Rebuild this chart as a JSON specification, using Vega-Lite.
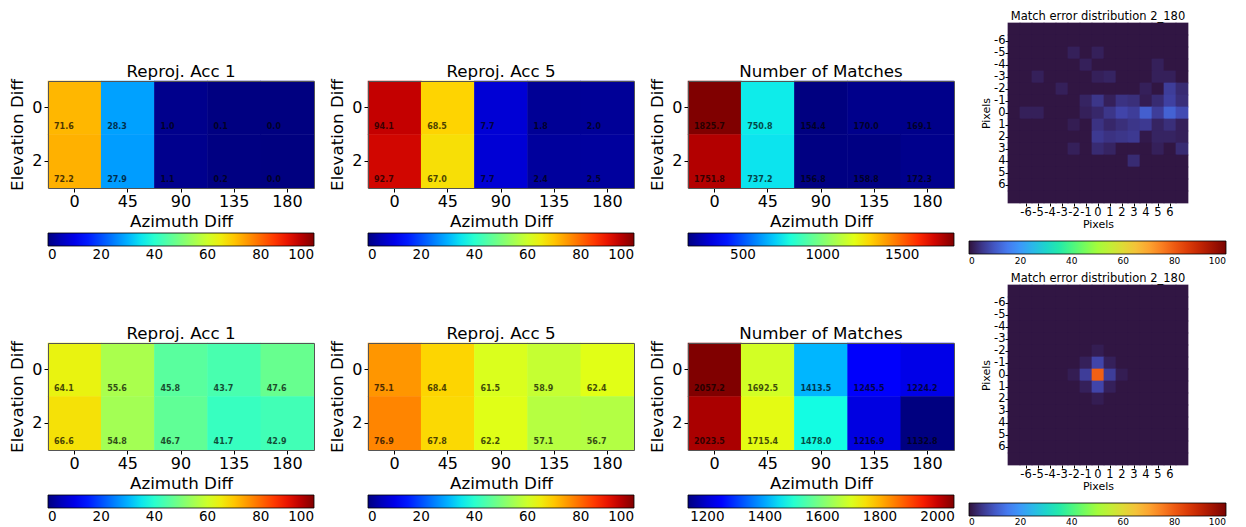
{
"$schema": "https://vega.github.io/schema/vega-lite/v6.json",
"background": "white",
"padding": {"left": 9, "top": 11, "right": 5, "bottom": 0},
"config": {
  "font": "DejaVu Sans",
  "view": {"stroke": null},
  "axis": {"labelFont": "DejaVu Sans", "titleFont": "DejaVu Sans", "labelColor": "#000", "titleColor": "#000", "tickColor": "#000", "domain": false, "grid": false, "titleFontWeight": "normal", "labelAngle": 0, "labelOverlap": false},
  "title": {"font": "DejaVu Sans", "fontWeight": "normal", "color": "#000", "anchor": "middle"},
  "legend": {"padding": 0, "labelFont": "DejaVu Sans", "labelColor": "#000", "gradientStrokeColor": "#000", "gradientStrokeWidth": 0.8, "labelAlign": "center", "labelOverlap": false, "labelOffset": 7}
},
"datasets": {
  "acc1_top": [
    {"azimuth": 0, "elevation": 0, "value": 71.6}, {"azimuth": 45, "elevation": 0, "value": 28.3}, {"azimuth": 90, "elevation": 0, "value": 1.0}, {"azimuth": 135, "elevation": 0, "value": 0.1}, {"azimuth": 180, "elevation": 0, "value": 0.0},
    {"azimuth": 0, "elevation": 2, "value": 72.2}, {"azimuth": 45, "elevation": 2, "value": 27.9}, {"azimuth": 90, "elevation": 2, "value": 1.1}, {"azimuth": 135, "elevation": 2, "value": 0.2}, {"azimuth": 180, "elevation": 2, "value": 0.0}
  ],
  "acc5_top": [
    {"azimuth": 0, "elevation": 0, "value": 94.1}, {"azimuth": 45, "elevation": 0, "value": 68.5}, {"azimuth": 90, "elevation": 0, "value": 7.7}, {"azimuth": 135, "elevation": 0, "value": 1.8}, {"azimuth": 180, "elevation": 0, "value": 2.0},
    {"azimuth": 0, "elevation": 2, "value": 92.7}, {"azimuth": 45, "elevation": 2, "value": 67.0}, {"azimuth": 90, "elevation": 2, "value": 7.7}, {"azimuth": 135, "elevation": 2, "value": 2.4}, {"azimuth": 180, "elevation": 2, "value": 2.5}
  ],
  "nom_top": [
    {"azimuth": 0, "elevation": 0, "value": 1825.7}, {"azimuth": 45, "elevation": 0, "value": 750.8}, {"azimuth": 90, "elevation": 0, "value": 154.4}, {"azimuth": 135, "elevation": 0, "value": 170.0}, {"azimuth": 180, "elevation": 0, "value": 169.1},
    {"azimuth": 0, "elevation": 2, "value": 1751.8}, {"azimuth": 45, "elevation": 2, "value": 737.2}, {"azimuth": 90, "elevation": 2, "value": 156.8}, {"azimuth": 135, "elevation": 2, "value": 158.8}, {"azimuth": 180, "elevation": 2, "value": 172.3}
  ],
  "acc1_bot": [
    {"azimuth": 0, "elevation": 0, "value": 64.1}, {"azimuth": 45, "elevation": 0, "value": 55.6}, {"azimuth": 90, "elevation": 0, "value": 45.8}, {"azimuth": 135, "elevation": 0, "value": 43.7}, {"azimuth": 180, "elevation": 0, "value": 47.6},
    {"azimuth": 0, "elevation": 2, "value": 66.6}, {"azimuth": 45, "elevation": 2, "value": 54.8}, {"azimuth": 90, "elevation": 2, "value": 46.7}, {"azimuth": 135, "elevation": 2, "value": 41.7}, {"azimuth": 180, "elevation": 2, "value": 42.9}
  ],
  "acc5_bot": [
    {"azimuth": 0, "elevation": 0, "value": 75.1}, {"azimuth": 45, "elevation": 0, "value": 68.4}, {"azimuth": 90, "elevation": 0, "value": 61.5}, {"azimuth": 135, "elevation": 0, "value": 58.9}, {"azimuth": 180, "elevation": 0, "value": 62.4},
    {"azimuth": 0, "elevation": 2, "value": 76.9}, {"azimuth": 45, "elevation": 2, "value": 67.8}, {"azimuth": 90, "elevation": 2, "value": 62.2}, {"azimuth": 135, "elevation": 2, "value": 57.1}, {"azimuth": 180, "elevation": 2, "value": 56.7}
  ],
  "nom_bot": [
    {"azimuth": 0, "elevation": 0, "value": 2057.2}, {"azimuth": 45, "elevation": 0, "value": 1692.5}, {"azimuth": 90, "elevation": 0, "value": 1413.5}, {"azimuth": 135, "elevation": 0, "value": 1245.5}, {"azimuth": 180, "elevation": 0, "value": 1224.2},
    {"azimuth": 0, "elevation": 2, "value": 2023.5}, {"azimuth": 45, "elevation": 2, "value": 1715.4}, {"azimuth": 90, "elevation": 2, "value": 1478.0}, {"azimuth": 135, "elevation": 2, "value": 1216.9}, {"azimuth": 180, "elevation": 2, "value": 1132.8}
  ],
  "err_top": [
    {"px":-7,"py":-7,"v":0.5},{"px":-6,"py":-7,"v":0.5},{"px":-5,"py":-7,"v":0.5},{"px":-4,"py":-7,"v":0.5},{"px":-3,"py":-7,"v":0.5},{"px":-2,"py":-7,"v":0.5},{"px":-1,"py":-7,"v":0.5},{"px":0,"py":-7,"v":0.5},{"px":1,"py":-7,"v":0.5},{"px":2,"py":-7,"v":0.5},{"px":3,"py":-7,"v":0.5},{"px":4,"py":-7,"v":0.5},{"px":5,"py":-7,"v":0.5},{"px":6,"py":-7,"v":0.5},{"px":7,"py":-7,"v":0.5},
    {"px":-7,"py":-6,"v":0.5},{"px":-6,"py":-6,"v":0.5},{"px":-5,"py":-6,"v":0.5},{"px":-4,"py":-6,"v":0.5},{"px":-3,"py":-6,"v":0.5},{"px":-2,"py":-6,"v":0.5},{"px":-1,"py":-6,"v":0.5},{"px":0,"py":-6,"v":0.5},{"px":1,"py":-6,"v":0.5},{"px":2,"py":-6,"v":0.5},{"px":3,"py":-6,"v":0.5},{"px":4,"py":-6,"v":0.5},{"px":5,"py":-6,"v":0.5},{"px":6,"py":-6,"v":0.5},{"px":7,"py":-6,"v":0.5},
    {"px":-7,"py":-5,"v":0.5},{"px":-6,"py":-5,"v":0.5},{"px":-5,"py":-5,"v":0.5},{"px":-4,"py":-5,"v":0.5},{"px":-3,"py":-5,"v":0.5},{"px":-2,"py":-5,"v":2},{"px":-1,"py":-5,"v":0.5},{"px":0,"py":-5,"v":2},{"px":1,"py":-5,"v":0.5},{"px":2,"py":-5,"v":0.5},{"px":3,"py":-5,"v":0.5},{"px":4,"py":-5,"v":0.5},{"px":5,"py":-5,"v":0.5},{"px":6,"py":-5,"v":0.5},{"px":7,"py":-5,"v":0.5},
    {"px":-7,"py":-4,"v":0.5},{"px":-6,"py":-4,"v":0.5},{"px":-5,"py":-4,"v":0.5},{"px":-4,"py":-4,"v":0.5},{"px":-3,"py":-4,"v":0.5},{"px":-2,"py":-4,"v":0.5},{"px":-1,"py":-4,"v":2},{"px":0,"py":-4,"v":0.5},{"px":1,"py":-4,"v":0.5},{"px":2,"py":-4,"v":0.5},{"px":3,"py":-4,"v":0.5},{"px":4,"py":-4,"v":0.5},{"px":5,"py":-4,"v":2},{"px":6,"py":-4,"v":0.5},{"px":7,"py":-4,"v":0.5},
    {"px":-7,"py":-3,"v":0.5},{"px":-6,"py":-3,"v":0.5},{"px":-5,"py":-3,"v":2},{"px":-4,"py":-3,"v":0.5},{"px":-3,"py":-3,"v":0.5},{"px":-2,"py":-3,"v":0.5},{"px":-1,"py":-3,"v":0.5},{"px":0,"py":-3,"v":2},{"px":1,"py":-3,"v":2.5},{"px":2,"py":-3,"v":0.5},{"px":3,"py":-3,"v":0.5},{"px":4,"py":-3,"v":0.5},{"px":5,"py":-3,"v":2},{"px":6,"py":-3,"v":2},{"px":7,"py":-3,"v":0.5},
    {"px":-7,"py":-2,"v":0.5},{"px":-6,"py":-2,"v":0.5},{"px":-5,"py":-2,"v":0.5},{"px":-4,"py":-2,"v":0.5},{"px":-3,"py":-2,"v":2},{"px":-2,"py":-2,"v":0.5},{"px":-1,"py":-2,"v":0.5},{"px":0,"py":-2,"v":0.5},{"px":1,"py":-2,"v":0.5},{"px":2,"py":-2,"v":0.5},{"px":3,"py":-2,"v":0.5},{"px":4,"py":-2,"v":2},{"px":5,"py":-2,"v":0.5},{"px":6,"py":-2,"v":6},{"px":7,"py":-2,"v":3.5},
    {"px":-7,"py":-1,"v":0.5},{"px":-6,"py":-1,"v":0.5},{"px":-5,"py":-1,"v":0.5},{"px":-4,"py":-1,"v":0.5},{"px":-3,"py":-1,"v":0.5},{"px":-2,"py":-1,"v":0.5},{"px":-1,"py":-1,"v":2.5},{"px":0,"py":-1,"v":5},{"px":1,"py":-1,"v":2},{"px":2,"py":-1,"v":4.5},{"px":3,"py":-1,"v":4},{"px":4,"py":-1,"v":1.5},{"px":5,"py":-1,"v":3.5},{"px":6,"py":-1,"v":6.5},{"px":7,"py":-1,"v":4},
    {"px":-7,"py":0,"v":0.5},{"px":-6,"py":0,"v":2},{"px":-5,"py":0,"v":2},{"px":-4,"py":0,"v":0.5},{"px":-3,"py":0,"v":0.5},{"px":-2,"py":0,"v":0.5},{"px":-1,"py":0,"v":2},{"px":0,"py":0,"v":3},{"px":1,"py":0,"v":5},{"px":2,"py":0,"v":7},{"px":3,"py":0,"v":6},{"px":4,"py":0,"v":11},{"px":5,"py":0,"v":6},{"px":6,"py":0,"v":11.5},{"px":7,"py":0,"v":8},
    {"px":-7,"py":1,"v":0.5},{"px":-6,"py":1,"v":0.5},{"px":-5,"py":1,"v":0.5},{"px":-4,"py":1,"v":0.5},{"px":-3,"py":1,"v":0.5},{"px":-2,"py":1,"v":1.5},{"px":-1,"py":1,"v":0.5},{"px":0,"py":1,"v":4.5},{"px":1,"py":1,"v":3},{"px":2,"py":1,"v":4},{"px":3,"py":1,"v":5},{"px":4,"py":1,"v":5.5},{"px":5,"py":1,"v":2.5},{"px":6,"py":1,"v":4},{"px":7,"py":1,"v":2},
    {"px":-7,"py":2,"v":0.5},{"px":-6,"py":2,"v":0.5},{"px":-5,"py":2,"v":0.5},{"px":-4,"py":2,"v":0.5},{"px":-3,"py":2,"v":0.5},{"px":-2,"py":2,"v":0.5},{"px":-1,"py":2,"v":0.5},{"px":0,"py":2,"v":5.5},{"px":1,"py":2,"v":4.5},{"px":2,"py":2,"v":5},{"px":3,"py":2,"v":5.5},{"px":4,"py":2,"v":1},{"px":5,"py":2,"v":2.5},{"px":6,"py":2,"v":2.5},{"px":7,"py":2,"v":2},
    {"px":-7,"py":3,"v":0.5},{"px":-6,"py":3,"v":0.5},{"px":-5,"py":3,"v":0.5},{"px":-4,"py":3,"v":0.5},{"px":-3,"py":3,"v":0.5},{"px":-2,"py":3,"v":2},{"px":-1,"py":3,"v":0.5},{"px":0,"py":3,"v":3.5},{"px":1,"py":3,"v":2.5},{"px":2,"py":3,"v":0.5},{"px":3,"py":3,"v":0.5},{"px":4,"py":3,"v":0.5},{"px":5,"py":3,"v":2},{"px":6,"py":3,"v":0.5},{"px":7,"py":3,"v":3.5},
    {"px":-7,"py":4,"v":0.5},{"px":-6,"py":4,"v":0.5},{"px":-5,"py":4,"v":0.5},{"px":-4,"py":4,"v":0.5},{"px":-3,"py":4,"v":0.5},{"px":-2,"py":4,"v":0.5},{"px":-1,"py":4,"v":0.5},{"px":0,"py":4,"v":0.5},{"px":1,"py":4,"v":0.5},{"px":2,"py":4,"v":0.5},{"px":3,"py":4,"v":3.5},{"px":4,"py":4,"v":0.5},{"px":5,"py":4,"v":0.5},{"px":6,"py":4,"v":0.5},{"px":7,"py":4,"v":0.5},
    {"px":-7,"py":5,"v":0.5},{"px":-6,"py":5,"v":0.5},{"px":-5,"py":5,"v":0.5},{"px":-4,"py":5,"v":0.5},{"px":-3,"py":5,"v":0.5},{"px":-2,"py":5,"v":0.5},{"px":-1,"py":5,"v":0.5},{"px":0,"py":5,"v":0.5},{"px":1,"py":5,"v":0.5},{"px":2,"py":5,"v":0.5},{"px":3,"py":5,"v":0.5},{"px":4,"py":5,"v":0.5},{"px":5,"py":5,"v":0.5},{"px":6,"py":5,"v":0.5},{"px":7,"py":5,"v":0.5},
    {"px":-7,"py":6,"v":0.5},{"px":-6,"py":6,"v":0.5},{"px":-5,"py":6,"v":0.5},{"px":-4,"py":6,"v":0.5},{"px":-3,"py":6,"v":0.5},{"px":-2,"py":6,"v":0.5},{"px":-1,"py":6,"v":0.5},{"px":0,"py":6,"v":0.5},{"px":1,"py":6,"v":0.5},{"px":2,"py":6,"v":0.5},{"px":3,"py":6,"v":0.5},{"px":4,"py":6,"v":0.5},{"px":5,"py":6,"v":0.5},{"px":6,"py":6,"v":0.5},{"px":7,"py":6,"v":0.5},
    {"px":-7,"py":7,"v":0.5},{"px":-6,"py":7,"v":0.5},{"px":-5,"py":7,"v":0.5},{"px":-4,"py":7,"v":0.5},{"px":-3,"py":7,"v":0.5},{"px":-2,"py":7,"v":0.5},{"px":-1,"py":7,"v":0.5},{"px":0,"py":7,"v":0.5},{"px":1,"py":7,"v":0.5},{"px":2,"py":7,"v":0.5},{"px":3,"py":7,"v":0.5},{"px":4,"py":7,"v":0.5},{"px":5,"py":7,"v":0.5},{"px":6,"py":7,"v":0.5},{"px":7,"py":7,"v":0.5}
  ],
  "err_bot": [
    {"px":-7,"py":-7,"v":0.5},{"px":-6,"py":-7,"v":0.5},{"px":-5,"py":-7,"v":0.5},{"px":-4,"py":-7,"v":0.5},{"px":-3,"py":-7,"v":0.5},{"px":-2,"py":-7,"v":0.5},{"px":-1,"py":-7,"v":0.5},{"px":0,"py":-7,"v":0.5},{"px":1,"py":-7,"v":0.5},{"px":2,"py":-7,"v":0.5},{"px":3,"py":-7,"v":0.5},{"px":4,"py":-7,"v":0.5},{"px":5,"py":-7,"v":0.5},{"px":6,"py":-7,"v":0.5},{"px":7,"py":-7,"v":0.5},
    {"px":-7,"py":-6,"v":0.5},{"px":-6,"py":-6,"v":0.5},{"px":-5,"py":-6,"v":0.5},{"px":-4,"py":-6,"v":0.5},{"px":-3,"py":-6,"v":0.5},{"px":-2,"py":-6,"v":0.5},{"px":-1,"py":-6,"v":0.5},{"px":0,"py":-6,"v":0.5},{"px":1,"py":-6,"v":0.5},{"px":2,"py":-6,"v":0.5},{"px":3,"py":-6,"v":0.5},{"px":4,"py":-6,"v":0.5},{"px":5,"py":-6,"v":0.5},{"px":6,"py":-6,"v":0.5},{"px":7,"py":-6,"v":0.5},
    {"px":-7,"py":-5,"v":0.5},{"px":-6,"py":-5,"v":0.5},{"px":-5,"py":-5,"v":0.5},{"px":-4,"py":-5,"v":0.5},{"px":-3,"py":-5,"v":0.5},{"px":-2,"py":-5,"v":0.5},{"px":-1,"py":-5,"v":0.5},{"px":0,"py":-5,"v":0.5},{"px":1,"py":-5,"v":0.5},{"px":2,"py":-5,"v":0.5},{"px":3,"py":-5,"v":0.5},{"px":4,"py":-5,"v":0.5},{"px":5,"py":-5,"v":0.5},{"px":6,"py":-5,"v":0.5},{"px":7,"py":-5,"v":0.5},
    {"px":-7,"py":-4,"v":0.5},{"px":-6,"py":-4,"v":0.5},{"px":-5,"py":-4,"v":0.5},{"px":-4,"py":-4,"v":0.5},{"px":-3,"py":-4,"v":0.5},{"px":-2,"py":-4,"v":0.5},{"px":-1,"py":-4,"v":0.5},{"px":0,"py":-4,"v":0.5},{"px":1,"py":-4,"v":0.5},{"px":2,"py":-4,"v":0.5},{"px":3,"py":-4,"v":0.5},{"px":4,"py":-4,"v":0.5},{"px":5,"py":-4,"v":0.5},{"px":6,"py":-4,"v":0.5},{"px":7,"py":-4,"v":0.5},
    {"px":-7,"py":-3,"v":0.5},{"px":-6,"py":-3,"v":0.5},{"px":-5,"py":-3,"v":0.5},{"px":-4,"py":-3,"v":0.5},{"px":-3,"py":-3,"v":0.5},{"px":-2,"py":-3,"v":0.5},{"px":-1,"py":-3,"v":0.5},{"px":0,"py":-3,"v":0.5},{"px":1,"py":-3,"v":0.5},{"px":2,"py":-3,"v":0.5},{"px":3,"py":-3,"v":0.5},{"px":4,"py":-3,"v":0.5},{"px":5,"py":-3,"v":0.5},{"px":6,"py":-3,"v":0.5},{"px":7,"py":-3,"v":0.5},
    {"px":-7,"py":-2,"v":0.5},{"px":-6,"py":-2,"v":0.5},{"px":-5,"py":-2,"v":0.5},{"px":-4,"py":-2,"v":0.5},{"px":-3,"py":-2,"v":0.5},{"px":-2,"py":-2,"v":0.5},{"px":-1,"py":-2,"v":0.5},{"px":0,"py":-2,"v":1.5},{"px":1,"py":-2,"v":0.5},{"px":2,"py":-2,"v":0.5},{"px":3,"py":-2,"v":0.5},{"px":4,"py":-2,"v":0.5},{"px":5,"py":-2,"v":0.5},{"px":6,"py":-2,"v":0.5},{"px":7,"py":-2,"v":0.5},
    {"px":-7,"py":-1,"v":0.5},{"px":-6,"py":-1,"v":0.5},{"px":-5,"py":-1,"v":0.5},{"px":-4,"py":-1,"v":0.5},{"px":-3,"py":-1,"v":0.5},{"px":-2,"py":-1,"v":0.5},{"px":-1,"py":-1,"v":2},{"px":0,"py":-1,"v":7},{"px":1,"py":-1,"v":2},{"px":2,"py":-1,"v":0.5},{"px":3,"py":-1,"v":0.5},{"px":4,"py":-1,"v":0.5},{"px":5,"py":-1,"v":0.5},{"px":6,"py":-1,"v":0.5},{"px":7,"py":-1,"v":0.5},
    {"px":-7,"py":0,"v":0.5},{"px":-6,"py":0,"v":0.5},{"px":-5,"py":0,"v":0.5},{"px":-4,"py":0,"v":0.5},{"px":-3,"py":0,"v":0.5},{"px":-2,"py":0,"v":1.5},{"px":-1,"py":0,"v":6},{"px":0,"py":0,"v":79},{"px":1,"py":0,"v":6},{"px":2,"py":0,"v":1.5},{"px":3,"py":0,"v":0.5},{"px":4,"py":0,"v":0.5},{"px":5,"py":0,"v":0.5},{"px":6,"py":0,"v":0.5},{"px":7,"py":0,"v":0.5},
    {"px":-7,"py":1,"v":0.5},{"px":-6,"py":1,"v":0.5},{"px":-5,"py":1,"v":0.5},{"px":-4,"py":1,"v":0.5},{"px":-3,"py":1,"v":0.5},{"px":-2,"py":1,"v":0.5},{"px":-1,"py":1,"v":2},{"px":0,"py":1,"v":7},{"px":1,"py":1,"v":2},{"px":2,"py":1,"v":0.5},{"px":3,"py":1,"v":0.5},{"px":4,"py":1,"v":0.5},{"px":5,"py":1,"v":0.5},{"px":6,"py":1,"v":0.5},{"px":7,"py":1,"v":0.5},
    {"px":-7,"py":2,"v":0.5},{"px":-6,"py":2,"v":0.5},{"px":-5,"py":2,"v":0.5},{"px":-4,"py":2,"v":0.5},{"px":-3,"py":2,"v":0.5},{"px":-2,"py":2,"v":0.5},{"px":-1,"py":2,"v":0.5},{"px":0,"py":2,"v":1.5},{"px":1,"py":2,"v":0.5},{"px":2,"py":2,"v":0.5},{"px":3,"py":2,"v":0.5},{"px":4,"py":2,"v":0.5},{"px":5,"py":2,"v":0.5},{"px":6,"py":2,"v":0.5},{"px":7,"py":2,"v":0.5},
    {"px":-7,"py":3,"v":0.5},{"px":-6,"py":3,"v":0.5},{"px":-5,"py":3,"v":0.5},{"px":-4,"py":3,"v":0.5},{"px":-3,"py":3,"v":0.5},{"px":-2,"py":3,"v":0.5},{"px":-1,"py":3,"v":0.5},{"px":0,"py":3,"v":0.5},{"px":1,"py":3,"v":0.5},{"px":2,"py":3,"v":0.5},{"px":3,"py":3,"v":0.5},{"px":4,"py":3,"v":0.5},{"px":5,"py":3,"v":0.5},{"px":6,"py":3,"v":0.5},{"px":7,"py":3,"v":0.5},
    {"px":-7,"py":4,"v":0.5},{"px":-6,"py":4,"v":0.5},{"px":-5,"py":4,"v":0.5},{"px":-4,"py":4,"v":0.5},{"px":-3,"py":4,"v":0.5},{"px":-2,"py":4,"v":0.5},{"px":-1,"py":4,"v":0.5},{"px":0,"py":4,"v":0.5},{"px":1,"py":4,"v":0.5},{"px":2,"py":4,"v":0.5},{"px":3,"py":4,"v":0.5},{"px":4,"py":4,"v":0.5},{"px":5,"py":4,"v":0.5},{"px":6,"py":4,"v":0.5},{"px":7,"py":4,"v":0.5},
    {"px":-7,"py":5,"v":0.5},{"px":-6,"py":5,"v":0.5},{"px":-5,"py":5,"v":0.5},{"px":-4,"py":5,"v":0.5},{"px":-3,"py":5,"v":0.5},{"px":-2,"py":5,"v":0.5},{"px":-1,"py":5,"v":0.5},{"px":0,"py":5,"v":0.5},{"px":1,"py":5,"v":0.5},{"px":2,"py":5,"v":0.5},{"px":3,"py":5,"v":0.5},{"px":4,"py":5,"v":0.5},{"px":5,"py":5,"v":0.5},{"px":6,"py":5,"v":0.5},{"px":7,"py":5,"v":0.5},
    {"px":-7,"py":6,"v":0.5},{"px":-6,"py":6,"v":0.5},{"px":-5,"py":6,"v":0.5},{"px":-4,"py":6,"v":0.5},{"px":-3,"py":6,"v":0.5},{"px":-2,"py":6,"v":0.5},{"px":-1,"py":6,"v":0.5},{"px":0,"py":6,"v":0.5},{"px":1,"py":6,"v":0.5},{"px":2,"py":6,"v":0.5},{"px":3,"py":6,"v":0.5},{"px":4,"py":6,"v":0.5},{"px":5,"py":6,"v":0.5},{"px":6,"py":6,"v":0.5},{"px":7,"py":6,"v":0.5},
    {"px":-7,"py":7,"v":0.5},{"px":-6,"py":7,"v":0.5},{"px":-5,"py":7,"v":0.5},{"px":-4,"py":7,"v":0.5},{"px":-3,"py":7,"v":0.5},{"px":-2,"py":7,"v":0.5},{"px":-1,"py":7,"v":0.5},{"px":0,"py":7,"v":0.5},{"px":1,"py":7,"v":0.5},{"px":2,"py":7,"v":0.5},{"px":3,"py":7,"v":0.5},{"px":4,"py":7,"v":0.5},{"px":5,"py":7,"v":0.5},{"px":6,"py":7,"v":0.5},{"px":7,"py":7,"v":0.5}
  ]
},
"concat": [
  {
    "width": 266, "height": 165,
    "title": {"text": "Reproj. Acc 1", "fontSize": 16.7, "offset": -58},
    "data": {"name": "acc1_top"},
    "encoding": {
      "x": {"field": "azimuth", "type": "ordinal", "scale": {"paddingInner": 0, "paddingOuter": 0}, "axis": {"title": "Azimuth Diff", "labelFontSize": 16, "titleFontSize": 16.7, "tickSize": 4, "labelPadding": 1, "titlePadding": 4, "domain": true, "domainColor": "#555", "zindex": 1}},
      "y": {"field": "elevation", "type": "ordinal", "scale": {"paddingInner": 0, "paddingOuter": 0, "range": [58, 165]}, "axis": {"title": "Elevation Diff", "labelFontSize": 16, "titleFontSize": 16.7, "tickSize": 4, "labelPadding": 2, "titlePadding": 5, "domain": true, "domainColor": "#555", "zindex": 1}}
    },
    "layer": [
      {"mark": {"type": "rect", "width": {"band": 1.01}, "height": {"band": 1.01}}, "encoding": {
        "color": {"field": "value", "type": "quantitative", "scale": {"domain": [0,6.25,12.5,18.75,25,31.25,37.5,43.75,50,56.25,62.5,68.75,75,81.25,87.5,93.75,100], "range": ["#000080","#0000c8","#0000ff","#0040ff","#0080ff","#00bfff","#14ffe2","#48ffaf","#7bff7b","#afff48","#e2ff15","#ffd200","#ff9700","#ff5c00","#ff2100","#c80000","#800000"], "interpolate": "rgb", "nice": false, "zero": false}, "legend": {"orient": "none", "direction": "horizontal", "legendX": 0, "legendY": 210, "gradientLength": 266, "gradientThickness": 13, "title": null, "labelFontSize": 13.5}}}},
      {"mark": {"type": "text", "align": "left", "baseline": "middle", "dx": 6, "dy": -8, "fontSize": 8, "fontWeight": "bold", "color": "#000", "opacity": 0.7}, "encoding": {"x": {"field": "azimuth", "type": "ordinal", "bandPosition": 0, "scale": {"paddingInner": 0, "paddingOuter": 0}, "axis": {"orient": "top", "offset": -58, "domain": true, "domainColor": "#555", "ticks": false, "labels": false, "title": null, "zindex": 1}}, "y": {"field": "elevation", "type": "ordinal", "bandPosition": 1, "scale": {"paddingInner": 0, "paddingOuter": 0, "range": [58, 165]}, "axis": {"orient": "right", "domain": true, "domainColor": "#555", "ticks": false, "labels": false, "title": null, "zindex": 1}}, "text": {"field": "value", "type": "quantitative", "format": ".1f"}}}
    ],
    "resolve": {"axis": {"x": "independent", "y": "independent"}}
  },
  {
    "width": 266, "height": 165,
    "title": {"text": "Reproj. Acc 5", "fontSize": 16.7, "offset": -58},
    "data": {"name": "acc5_top"},
    "encoding": {
      "x": {"field": "azimuth", "type": "ordinal", "scale": {"paddingInner": 0, "paddingOuter": 0}, "axis": {"title": "Azimuth Diff", "labelFontSize": 16, "titleFontSize": 16.7, "tickSize": 4, "labelPadding": 1, "titlePadding": 4, "domain": true, "domainColor": "#555", "zindex": 1}},
      "y": {"field": "elevation", "type": "ordinal", "scale": {"paddingInner": 0, "paddingOuter": 0, "range": [58, 165]}, "axis": {"title": "Elevation Diff", "labelFontSize": 16, "titleFontSize": 16.7, "tickSize": 4, "labelPadding": 2, "titlePadding": 5, "domain": true, "domainColor": "#555", "zindex": 1}}
    },
    "layer": [
      {"mark": {"type": "rect", "width": {"band": 1.01}, "height": {"band": 1.01}}, "encoding": {
        "color": {"field": "value", "type": "quantitative", "scale": {"domain": [0,6.25,12.5,18.75,25,31.25,37.5,43.75,50,56.25,62.5,68.75,75,81.25,87.5,93.75,100], "range": ["#000080","#0000c8","#0000ff","#0040ff","#0080ff","#00bfff","#14ffe2","#48ffaf","#7bff7b","#afff48","#e2ff15","#ffd200","#ff9700","#ff5c00","#ff2100","#c80000","#800000"], "interpolate": "rgb", "nice": false, "zero": false}, "legend": {"orient": "none", "direction": "horizontal", "legendX": 0, "legendY": 210, "gradientLength": 266, "gradientThickness": 13, "title": null, "labelFontSize": 13.5}}}},
      {"mark": {"type": "text", "align": "left", "baseline": "middle", "dx": 6, "dy": -8, "fontSize": 8, "fontWeight": "bold", "color": "#000", "opacity": 0.7}, "encoding": {"x": {"field": "azimuth", "type": "ordinal", "bandPosition": 0, "scale": {"paddingInner": 0, "paddingOuter": 0}, "axis": {"orient": "top", "offset": -58, "domain": true, "domainColor": "#555", "ticks": false, "labels": false, "title": null, "zindex": 1}}, "y": {"field": "elevation", "type": "ordinal", "bandPosition": 1, "scale": {"paddingInner": 0, "paddingOuter": 0, "range": [58, 165]}, "axis": {"orient": "right", "domain": true, "domainColor": "#555", "ticks": false, "labels": false, "title": null, "zindex": 1}}, "text": {"field": "value", "type": "quantitative", "format": ".1f"}}}
    ],
    "resolve": {"axis": {"x": "independent", "y": "independent"}}
  },
  {
    "width": 266, "height": 165,
    "title": {"text": "Number of Matches", "fontSize": 16.7, "offset": -58},
    "data": {"name": "nom_top"},
    "encoding": {
      "x": {"field": "azimuth", "type": "ordinal", "scale": {"paddingInner": 0, "paddingOuter": 0}, "axis": {"title": "Azimuth Diff", "labelFontSize": 16, "titleFontSize": 16.7, "tickSize": 4, "labelPadding": 1, "titlePadding": 4, "domain": true, "domainColor": "#555", "zindex": 1}},
      "y": {"field": "elevation", "type": "ordinal", "scale": {"paddingInner": 0, "paddingOuter": 0, "range": [58, 165]}, "axis": {"title": "Elevation Diff", "labelFontSize": 16, "titleFontSize": 16.7, "tickSize": 4, "labelPadding": 2, "titlePadding": 5, "domain": true, "domainColor": "#555", "zindex": 1}}
    },
    "layer": [
      {"mark": {"type": "rect", "width": {"band": 1.01}, "height": {"band": 1.01}}, "encoding": {
        "color": {"field": "value", "type": "quantitative", "scale": {"domain": [154.4,258.856,363.313,467.769,572.225,676.681,781.138,885.594,990.05,1094.506,1198.963,1303.419,1407.875,1512.331,1616.788,1721.244,1825.7], "range": ["#000080","#0000c8","#0000ff","#0040ff","#0080ff","#00bfff","#14ffe2","#48ffaf","#7bff7b","#afff48","#e2ff15","#ffd200","#ff9700","#ff5c00","#ff2100","#c80000","#800000"], "interpolate": "rgb", "nice": false, "zero": false}, "legend": {"orient": "none", "direction": "horizontal", "legendX": 0, "legendY": 210, "gradientLength": 266, "gradientThickness": 13, "title": null, "labelFontSize": 13.5, "format": "d"}}}},
      {"mark": {"type": "text", "align": "left", "baseline": "middle", "dx": 6, "dy": -8, "fontSize": 8, "fontWeight": "bold", "color": "#000", "opacity": 0.7}, "encoding": {"x": {"field": "azimuth", "type": "ordinal", "bandPosition": 0, "scale": {"paddingInner": 0, "paddingOuter": 0}, "axis": {"orient": "top", "offset": -58, "domain": true, "domainColor": "#555", "ticks": false, "labels": false, "title": null, "zindex": 1}}, "y": {"field": "elevation", "type": "ordinal", "bandPosition": 1, "scale": {"paddingInner": 0, "paddingOuter": 0, "range": [58, 165]}, "axis": {"orient": "right", "domain": true, "domainColor": "#555", "ticks": false, "labels": false, "title": null, "zindex": 1}}, "text": {"field": "value", "type": "quantitative", "format": ".1f"}}}
    ],
    "resolve": {"axis": {"x": "independent", "y": "independent"}}
  },
  {
    "width": 180, "height": 180,
    "title": {"text": "Match error distribution 2_180", "fontSize": 11.5, "offset": 0},
    "data": {"name": "err_top"},
    "mark": {"type": "rect", "width": {"band": 1.06}, "height": {"band": 1.06}},
    "encoding": {
      "x": {"field": "px", "type": "ordinal", "scale": {"paddingInner": 0, "paddingOuter": 0}, "axis": {"values": [-6,-5,-4,-3,-2,-1,0,1,2,3,4,5,6], "title": "Pixels", "labelFontSize": 11.5, "titleFontSize": 11, "tickSize": 3, "labelPadding": 0, "titlePadding": 1}},
      "y": {"field": "py", "type": "ordinal", "scale": {"paddingInner": 0, "paddingOuter": 0}, "axis": {"values": [-6,-5,-4,-3,-2,-1,0,1,2,3,4,5,6], "title": "Pixels", "labelFontSize": 11.5, "titleFontSize": 11, "tickSize": 3, "labelPadding": 0, "titlePadding": 2}},
      "color": {"field": "v", "type": "quantitative", "scale": {"domain": [0,7.1429,14.2857,21.4286,28.5714,35.7143,42.8571,50,57.1429,64.2857,71.4286,78.5714,85.7143,92.8571,100], "range": ["#30123b","#4145ab","#4675ed","#39a2fc","#1bcfd4","#24eca6","#61fc6c","#a4fc3b","#d1e834","#f3c63a","#fe9b2d","#f36315","#d93806","#b11901","#7a0403"], "interpolate": "rgb", "nice": false, "zero": false}, "legend": {"orient": "none", "direction": "horizontal", "legendX": -39, "legendY": 218, "gradientLength": 257, "gradientThickness": 13, "title": null, "labelFontSize": 9, "labelOffset": 3}}
    }
  },
  {
    "width": 266, "height": 165,
    "title": {"text": "Reproj. Acc 1", "fontSize": 16.7, "offset": -58},
    "data": {"name": "acc1_bot"},
    "encoding": {
      "x": {"field": "azimuth", "type": "ordinal", "scale": {"paddingInner": 0, "paddingOuter": 0}, "axis": {"title": "Azimuth Diff", "labelFontSize": 16, "titleFontSize": 16.7, "tickSize": 4, "labelPadding": 1, "titlePadding": 4, "domain": true, "domainColor": "#555", "zindex": 1}},
      "y": {"field": "elevation", "type": "ordinal", "scale": {"paddingInner": 0, "paddingOuter": 0, "range": [58, 165]}, "axis": {"title": "Elevation Diff", "labelFontSize": 16, "titleFontSize": 16.7, "tickSize": 4, "labelPadding": 2, "titlePadding": 5, "domain": true, "domainColor": "#555", "zindex": 1}}
    },
    "layer": [
      {"mark": {"type": "rect", "width": {"band": 1.01}, "height": {"band": 1.01}}, "encoding": {
        "color": {"field": "value", "type": "quantitative", "scale": {"domain": [0,6.25,12.5,18.75,25,31.25,37.5,43.75,50,56.25,62.5,68.75,75,81.25,87.5,93.75,100], "range": ["#000080","#0000c8","#0000ff","#0040ff","#0080ff","#00bfff","#14ffe2","#48ffaf","#7bff7b","#afff48","#e2ff15","#ffd200","#ff9700","#ff5c00","#ff2100","#c80000","#800000"], "interpolate": "rgb", "nice": false, "zero": false}, "legend": {"orient": "none", "direction": "horizontal", "legendX": 0, "legendY": 210, "gradientLength": 266, "gradientThickness": 13, "title": null, "labelFontSize": 13.5}}}},
      {"mark": {"type": "text", "align": "left", "baseline": "middle", "dx": 6, "dy": -8, "fontSize": 8, "fontWeight": "bold", "color": "#000", "opacity": 0.7}, "encoding": {"x": {"field": "azimuth", "type": "ordinal", "bandPosition": 0, "scale": {"paddingInner": 0, "paddingOuter": 0}, "axis": {"orient": "top", "offset": -58, "domain": true, "domainColor": "#555", "ticks": false, "labels": false, "title": null, "zindex": 1}}, "y": {"field": "elevation", "type": "ordinal", "bandPosition": 1, "scale": {"paddingInner": 0, "paddingOuter": 0, "range": [58, 165]}, "axis": {"orient": "right", "domain": true, "domainColor": "#555", "ticks": false, "labels": false, "title": null, "zindex": 1}}, "text": {"field": "value", "type": "quantitative", "format": ".1f"}}}
    ],
    "resolve": {"axis": {"x": "independent", "y": "independent"}}
  },
  {
    "width": 266, "height": 165,
    "title": {"text": "Reproj. Acc 5", "fontSize": 16.7, "offset": -58},
    "data": {"name": "acc5_bot"},
    "encoding": {
      "x": {"field": "azimuth", "type": "ordinal", "scale": {"paddingInner": 0, "paddingOuter": 0}, "axis": {"title": "Azimuth Diff", "labelFontSize": 16, "titleFontSize": 16.7, "tickSize": 4, "labelPadding": 1, "titlePadding": 4, "domain": true, "domainColor": "#555", "zindex": 1}},
      "y": {"field": "elevation", "type": "ordinal", "scale": {"paddingInner": 0, "paddingOuter": 0, "range": [58, 165]}, "axis": {"title": "Elevation Diff", "labelFontSize": 16, "titleFontSize": 16.7, "tickSize": 4, "labelPadding": 2, "titlePadding": 5, "domain": true, "domainColor": "#555", "zindex": 1}}
    },
    "layer": [
      {"mark": {"type": "rect", "width": {"band": 1.01}, "height": {"band": 1.01}}, "encoding": {
        "color": {"field": "value", "type": "quantitative", "scale": {"domain": [0,6.25,12.5,18.75,25,31.25,37.5,43.75,50,56.25,62.5,68.75,75,81.25,87.5,93.75,100], "range": ["#000080","#0000c8","#0000ff","#0040ff","#0080ff","#00bfff","#14ffe2","#48ffaf","#7bff7b","#afff48","#e2ff15","#ffd200","#ff9700","#ff5c00","#ff2100","#c80000","#800000"], "interpolate": "rgb", "nice": false, "zero": false}, "legend": {"orient": "none", "direction": "horizontal", "legendX": 0, "legendY": 210, "gradientLength": 266, "gradientThickness": 13, "title": null, "labelFontSize": 13.5}}}},
      {"mark": {"type": "text", "align": "left", "baseline": "middle", "dx": 6, "dy": -8, "fontSize": 8, "fontWeight": "bold", "color": "#000", "opacity": 0.7}, "encoding": {"x": {"field": "azimuth", "type": "ordinal", "bandPosition": 0, "scale": {"paddingInner": 0, "paddingOuter": 0}, "axis": {"orient": "top", "offset": -58, "domain": true, "domainColor": "#555", "ticks": false, "labels": false, "title": null, "zindex": 1}}, "y": {"field": "elevation", "type": "ordinal", "bandPosition": 1, "scale": {"paddingInner": 0, "paddingOuter": 0, "range": [58, 165]}, "axis": {"orient": "right", "domain": true, "domainColor": "#555", "ticks": false, "labels": false, "title": null, "zindex": 1}}, "text": {"field": "value", "type": "quantitative", "format": ".1f"}}}
    ],
    "resolve": {"axis": {"x": "independent", "y": "independent"}}
  },
  {
    "width": 266, "height": 165,
    "title": {"text": "Number of Matches", "fontSize": 16.7, "offset": -58},
    "data": {"name": "nom_bot"},
    "encoding": {
      "x": {"field": "azimuth", "type": "ordinal", "scale": {"paddingInner": 0, "paddingOuter": 0}, "axis": {"title": "Azimuth Diff", "labelFontSize": 16, "titleFontSize": 16.7, "tickSize": 4, "labelPadding": 1, "titlePadding": 4, "domain": true, "domainColor": "#555", "zindex": 1}},
      "y": {"field": "elevation", "type": "ordinal", "scale": {"paddingInner": 0, "paddingOuter": 0, "range": [58, 165]}, "axis": {"title": "Elevation Diff", "labelFontSize": 16, "titleFontSize": 16.7, "tickSize": 4, "labelPadding": 2, "titlePadding": 5, "domain": true, "domainColor": "#555", "zindex": 1}}
    },
    "layer": [
      {"mark": {"type": "rect", "width": {"band": 1.01}, "height": {"band": 1.01}}, "encoding": {
        "color": {"field": "value", "type": "quantitative", "scale": {"domain": [1132.8,1190.575,1248.35,1306.125,1363.9,1421.675,1479.45,1537.225,1595,1652.775,1710.55,1768.325,1826.1,1883.875,1941.65,1999.425,2057.2], "range": ["#000080","#0000c8","#0000ff","#0040ff","#0080ff","#00bfff","#14ffe2","#48ffaf","#7bff7b","#afff48","#e2ff15","#ffd200","#ff9700","#ff5c00","#ff2100","#c80000","#800000"], "interpolate": "rgb", "nice": false, "zero": false}, "legend": {"orient": "none", "direction": "horizontal", "legendX": 0, "legendY": 210, "gradientLength": 266, "gradientThickness": 13, "title": null, "labelFontSize": 13.5, "format": "d"}}}},
      {"mark": {"type": "text", "align": "left", "baseline": "middle", "dx": 6, "dy": -8, "fontSize": 8, "fontWeight": "bold", "color": "#000", "opacity": 0.7}, "encoding": {"x": {"field": "azimuth", "type": "ordinal", "bandPosition": 0, "scale": {"paddingInner": 0, "paddingOuter": 0}, "axis": {"orient": "top", "offset": -58, "domain": true, "domainColor": "#555", "ticks": false, "labels": false, "title": null, "zindex": 1}}, "y": {"field": "elevation", "type": "ordinal", "bandPosition": 1, "scale": {"paddingInner": 0, "paddingOuter": 0, "range": [58, 165]}, "axis": {"orient": "right", "domain": true, "domainColor": "#555", "ticks": false, "labels": false, "title": null, "zindex": 1}}, "text": {"field": "value", "type": "quantitative", "format": ".1f"}}}
    ],
    "resolve": {"axis": {"x": "independent", "y": "independent"}}
  },
  {
    "width": 180, "height": 180,
    "title": {"text": "Match error distribution 2_180", "fontSize": 11.5, "offset": 0},
    "data": {"name": "err_bot"},
    "mark": {"type": "rect", "width": {"band": 1.06}, "height": {"band": 1.06}},
    "encoding": {
      "x": {"field": "px", "type": "ordinal", "scale": {"paddingInner": 0, "paddingOuter": 0}, "axis": {"values": [-6,-5,-4,-3,-2,-1,0,1,2,3,4,5,6], "title": "Pixels", "labelFontSize": 11.5, "titleFontSize": 11, "tickSize": 3, "labelPadding": 0, "titlePadding": 1}},
      "y": {"field": "py", "type": "ordinal", "scale": {"paddingInner": 0, "paddingOuter": 0}, "axis": {"values": [-6,-5,-4,-3,-2,-1,0,1,2,3,4,5,6], "title": "Pixels", "labelFontSize": 11.5, "titleFontSize": 11, "tickSize": 3, "labelPadding": 0, "titlePadding": 2}},
      "color": {"field": "v", "type": "quantitative", "scale": {"domain": [0,7.1429,14.2857,21.4286,28.5714,35.7143,42.8571,50,57.1429,64.2857,71.4286,78.5714,85.7143,92.8571,100], "range": ["#30123b","#4145ab","#4675ed","#39a2fc","#1bcfd4","#24eca6","#61fc6c","#a4fc3b","#d1e834","#f3c63a","#fe9b2d","#f36315","#d93806","#b11901","#7a0403"], "interpolate": "rgb", "nice": false, "zero": false}, "legend": {"orient": "none", "direction": "horizontal", "legendX": -39, "legendY": 218, "gradientLength": 257, "gradientThickness": 13, "title": null, "labelFontSize": 9, "labelOffset": 2}}
    }
  }
],
"columns": 4,
"spacing": {"row": 82, "column": 54},
"align": "each",
"bounds": "flush",
"resolve": {"scale": {"color": "independent", "x": "independent", "y": "independent"}, "legend": {"color": "independent"}}
}
